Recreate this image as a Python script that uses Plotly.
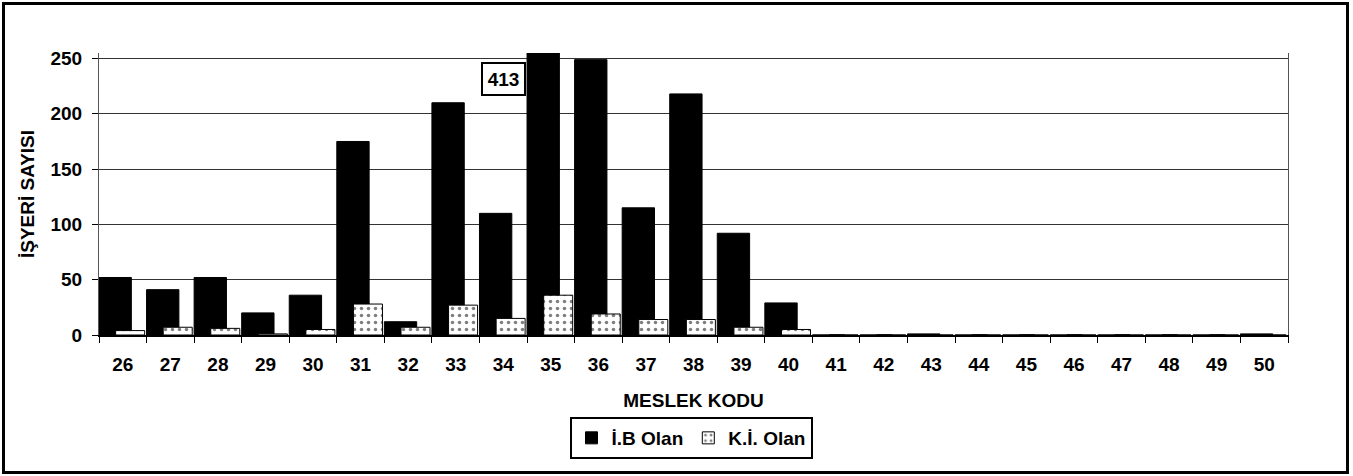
import plotly.graph_objects as go

categories = [str(c) for c in range(26, 51)]
ib_olan = [52, 41, 52, 20, 36, 175, 12, 210, 110, 413, 249, 115, 218, 92, 29,
           0, 0, 1, 0, 0, 0, 0, 0, 0, 1]
ki_olan = [4, 7, 6, 1, 5, 28, 7, 27, 15, 36, 19, 14, 14, 7, 5,
           0, 0, 0, 0, 0, 0, 0, 0, 0, 0]
y_ticks = [0, 50, 100, 150, 200, 250]
y_max = 255

W, H = 1353, 476
PL, PR, PT, PB = 99, 1288, 53, 335          # plot area in page coords
ML, MR, MT, MB = PL, W - PR, PT, H - PB
FONT = dict(family="Liberation Sans, Arial, sans-serif", size=19, color="black", weight="bold")

fig = go.Figure()
fig.add_trace(go.Bar(
    x=categories, y=ib_olan, name="İ.B Olan",
    offset=-0.5, width=0.68,
    marker=dict(color="black", line=dict(color="black", width=1)),
))
fig.add_trace(go.Bar(
    x=categories, y=ki_olan, name="K.İ. Olan",
    offset=-0.15, width=0.61,
    marker=dict(color="white", line=dict(color="black", width=1),
                pattern=dict(shape=".", fgcolor="black", bgcolor="white", size=7, solidity=0.2)),
))

# label for the clipped bar
clip_idx = max(range(len(ib_olan)), key=lambda i: ib_olan[i])
fig.add_annotation(
    x=clip_idx - 0.99, y=231.5, xref="x", yref="y",
    text=str(ib_olan[clip_idx]), showarrow=False,
    font=FONT, bgcolor="white", bordercolor="black", borderwidth=2,
    borderpad=2, width=37, height=26,
)

pw = PR - PL
ph = PB - PT
def px2x(p):
    return (p - PL) / pw
def py2y(p):
    return (PB - p) / ph

fig.add_shape(type="rect", xref="paper", yref="paper",
              x0=px2x(3.5), x1=px2x(1347.5), y0=py2y(472.5), y1=py2y(3.5),
              line=dict(color="black", width=3), fillcolor="rgba(0,0,0,0)", layer="above")

fig.update_layout(
    width=W, height=H,
    margin=dict(l=ML, r=MR, t=MT, b=MB),
    paper_bgcolor="white", plot_bgcolor="white",
    barmode="overlay",
    font=FONT,
    showlegend=True,
    legend=dict(orientation="h", x=px2x(691), xanchor="center", y=py2y(417), yanchor="top",
                bordercolor="black", borderwidth=2, bgcolor="white",
                font=FONT, itemwidth=30, tracegroupgap=0),
    xaxis=dict(
        type="category", tickson="boundaries", ticks="outside", ticklen=6,
        tickcolor="black", showline=True, linecolor="black", linewidth=1.5,
        tickfont=FONT, ticklabelstandoff=11, range=[-0.5, len(categories) - 0.5],
        title=dict(text="MESLEK KODU", font=FONT, standoff=20),
    ),
    yaxis=dict(
        range=[0, y_max], tickvals=y_ticks, ticks="outside", ticklen=6, tickcolor="black",
        showline=True, linecolor="#555", linewidth=1, mirror=True,
        showgrid=True, gridcolor="#333", gridwidth=1, zeroline=False,
        tickfont=FONT, ticklabelstandoff=6,
        title=dict(text="İŞYERİ SAYISI", font=FONT, standoff=10),
    ),
)

fig.write_html("out.html",
               config={"displayModeBar": False},
               post_script="document.body.style.margin='0';document.body.style.overflow='hidden';")
